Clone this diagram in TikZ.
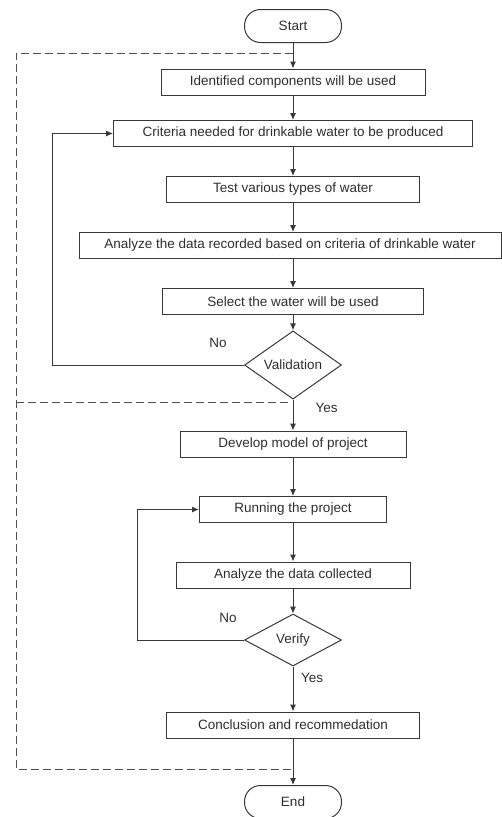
\documentclass[tikz,border=0pt]{standalone}
\usepackage{fontspec}
\setmainfont{Liberation Sans}
\usepackage{xcolor}
\usepackage{tikz}
\usetikzlibrary{shapes.geometric, arrows.meta, positioning}
\definecolor{ink}{HTML}{2E2E2E}
\definecolor{edge}{HTML}{383838}
\definecolor{phase}{HTML}{505050}

\begin{document}
\begin{tikzpicture}[x=1pt, y=-1pt, node distance=56pt, >={Latex[length=7pt,width=6pt]},
        every node/.style={text=ink, font=\fontsize{13.5}{16}\selectfont},
        box/.style={rectangle, draw=edge, line width=1pt, minimum height=26pt, inner sep=2pt},
        term/.style={rectangle, rounded corners=16pt, draw=edge, line width=1pt, minimum width=97pt, minimum height=33pt},
        decision/.style={diamond, draw=edge, line width=1pt, inner sep=0pt, minimum width=97pt, minimum height=52pt},
        lbl/.style={inner sep=0pt},
        flow/.style={->, draw=edge, line width=1pt}]
        \useasboundingbox (0,0) rectangle (502,817);

        \node (start) [term] at (293,26) {Start};
        \node (s1) [box, minimum width=264pt, below of=start] {Identified components will be used};
        \node (s2) [box, minimum width=359pt, below of=s1, yshift=4.5pt] {Criteria needed for drinkable water to be produced};
        \node (s3) [box, minimum width=253pt, below of=s2] {Test various types of water};
        \node (s4) [box, minimum width=422pt, below of=s3, xshift=-3pt] {Analyze the data recorded based on criteria of drinkable water};
        \node (s5) [box, minimum width=261pt, below of=s4, xshift=3pt] {Select the water will be used};
        \node (val) [decision, below of=s5, yshift=-7.5pt] {Validation};
        \node (s6) [box, minimum width=226pt, below of=val, yshift=-23pt] {Develop model of project};
        \node (s7) [box, minimum width=187pt, below of=s6, yshift=-9.5pt] {Running the project};
        \node (s8) [box, minimum width=234pt, below of=s7, yshift=-9.5pt] {Analyze the data collected};
        \node (ver) [decision, below of=s8, yshift=-9pt] {Verify};
        \node (s9) [box, minimum width=253pt, below of=ver, yshift=-29pt] {Conclusion and recommedation};
        \node (end) [term, below of=s9, yshift=-21pt] {End};

        % phase borders
        \draw [phase, line width=1pt, dash pattern=on 8pt off 4pt] (293,53) -- (16,53) -- (16,769) -- (293,769);
        \draw [phase, line width=1pt, dash pattern=on 8pt off 4pt] (16,402) -- (290,402);

        \draw [flow] (start) -- (s1);
        \draw [flow] (s1) -- (s2);
        \draw [flow] (s2) -- (s3);
        \draw [flow] (s3) -- (s4.north -| s3);
        \draw [flow] (s4.south -| s5) -- (s5);
        \draw [flow] (s5) -- (val);
        \draw [flow] (val) -- node[lbl, right=22pt, pos=0.28] {Yes} (s6);
        \draw [flow] (val.west) -- node[lbl, above=17pt, pos=0.135] {No} ++(-192,0) |- (s2.west);
        \draw [flow] (s6) -- (s7);
        \draw [flow] (s7) -- (s8);
        \draw [flow] (s8) -- (ver);
        \draw [flow] (ver) -- node[lbl, right=7.5pt, pos=0.255] {Yes} (s9);
        \draw [flow] (ver.west) -- node[lbl, above=17pt, pos=0.15] {No} ++(-107,0) |- (s7.west);
        \draw [flow] (s9) -- (end);
    \end{tikzpicture}
\end{document}
